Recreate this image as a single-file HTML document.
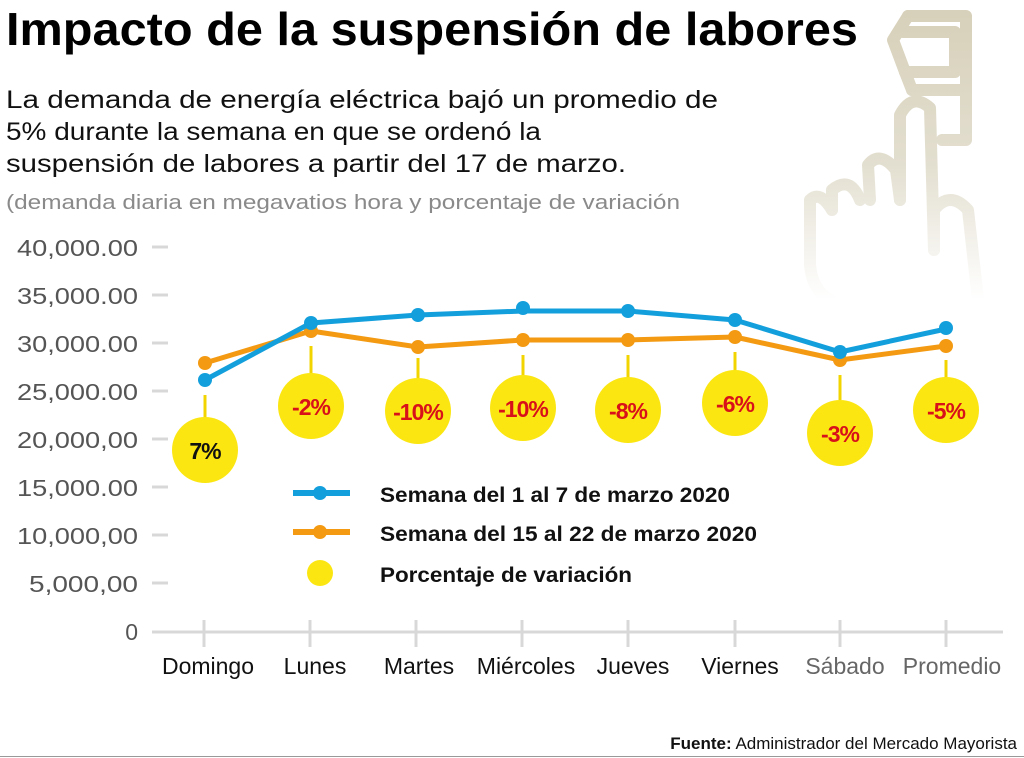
<!DOCTYPE html>
<html><head><meta charset="utf-8"><style>
body{margin:0;background:#fff;}
svg{display:block;}
</style></head><body>
<svg width="1024" height="758" viewBox="0 0 1024 758" xmlns="http://www.w3.org/2000/svg" font-family="Liberation Sans, DejaVu Sans, sans-serif">
<defs>
<linearGradient id="hg" x1="0" y1="0" x2="0" y2="300" gradientUnits="userSpaceOnUse">
<stop offset="0" stop-color="#d6cfb8"/><stop offset="0.55" stop-color="#e3dfd0"/><stop offset="1" stop-color="#ffffff"/>
</linearGradient>
</defs>
<!-- hand -->
<g fill="none" stroke="url(#hg)" stroke-width="12" stroke-linecap="round" stroke-linejoin="round">
<path d="M908 16 L966 16 L966 140 L942 140"/>
<path d="M908 16 L893 40 L905 72 L912 90"/>
<path d="M903 32 L955 32 L955 72 L905 72"/>
<path d="M912 90 L962 90"/>
<path d="M900 200 L900 115 Q912 92 930 108 L934 250"/>
<path d="M900 200 L896 170 Q880 150 868 165 L870 200"/>
<path d="M860 200 Q850 175 832 190 L832 210"/>
<path d="M832 210 Q820 190 810 200 L810 265 Q812 290 830 300"/>
<path d="M934 250 L934 210 Q950 190 968 210 L978 300"/>
</g>
<text x="6" y="45" font-size="46" font-weight="bold" fill="#000" textLength="852" lengthAdjust="spacingAndGlyphs">Impacto de la suspensión de labores</text>
<g font-size="25" fill="#111">
<text x="6" y="108" textLength="712" lengthAdjust="spacingAndGlyphs">La demanda de energía eléctrica bajó un promedio de</text>
<text x="6" y="140" textLength="535" lengthAdjust="spacingAndGlyphs">5% durante la semana en que se ordenó la</text>
<text x="6" y="172" textLength="620" lengthAdjust="spacingAndGlyphs">suspensión de labores a partir del 17 de marzo.</text>
</g>
<text x="6" y="209" font-size="20" fill="#8a8a8a" textLength="674" lengthAdjust="spacingAndGlyphs">(demanda diaria en megavatios hora y porcentaje de variación</text>
<!-- y axis -->
<g font-size="23" fill="#555" text-anchor="end">
<text x="138" y="256" textLength="121" lengthAdjust="spacingAndGlyphs">40,000.00</text>
<text x="138" y="304" textLength="121" lengthAdjust="spacingAndGlyphs">35,000.00</text>
<text x="138" y="352" textLength="121" lengthAdjust="spacingAndGlyphs">30,000.00</text>
<text x="138" y="400" textLength="121" lengthAdjust="spacingAndGlyphs">25,000.00</text>
<text x="138" y="448" textLength="121" lengthAdjust="spacingAndGlyphs">20,000,00</text>
<text x="138" y="496" textLength="121" lengthAdjust="spacingAndGlyphs">15,000.00</text>
<text x="138" y="544" textLength="121" lengthAdjust="spacingAndGlyphs">10,000,00</text>
<text x="138" y="592" textLength="109" lengthAdjust="spacingAndGlyphs">5,000,00</text>
<text x="138" y="640">0</text>
</g>
<g stroke="#d8d8d8" stroke-width="3">
<line x1="152" y1="247" x2="168" y2="247"/><line x1="152" y1="295" x2="168" y2="295"/>
<line x1="152" y1="343" x2="168" y2="343"/><line x1="152" y1="391" x2="168" y2="391"/>
<line x1="152" y1="439" x2="168" y2="439"/><line x1="152" y1="487" x2="168" y2="487"/>
<line x1="152" y1="535" x2="168" y2="535"/><line x1="152" y1="583" x2="168" y2="583"/>
<line x1="152" y1="632" x2="1003" y2="632"/>
<line x1="204" y1="620" x2="204" y2="647"/><line x1="310" y1="620" x2="310" y2="647"/>
<line x1="416" y1="620" x2="416" y2="647"/><line x1="522" y1="620" x2="522" y2="647"/>
<line x1="628" y1="620" x2="628" y2="647"/><line x1="735" y1="620" x2="735" y2="647"/>
<line x1="840" y1="620" x2="840" y2="647"/><line x1="946" y1="620" x2="946" y2="647"/>
</g>
<g font-size="23" fill="#111" text-anchor="middle">
<text x="208" y="674">Domingo</text><text x="315" y="674">Lunes</text>
<text x="419" y="674">Martes</text><text x="526" y="674">Miércoles</text>
<text x="633" y="674">Jueves</text><text x="740" y="674">Viernes</text>
<text x="845" y="674" fill="#666">Sábado</text><text x="952" y="674" fill="#666">Promedio</text>
</g>
<!-- connectors & circles -->
<g stroke="#f2d500" stroke-width="3">
<line x1="205" y1="395" x2="205" y2="420"/><line x1="311" y1="346" x2="311" y2="374"/>
<line x1="418" y1="358" x2="418" y2="379"/><line x1="523" y1="355" x2="523" y2="377"/>
<line x1="628" y1="355" x2="628" y2="379"/><line x1="735" y1="352" x2="735" y2="372"/>
<line x1="840" y1="375" x2="840" y2="400"/><line x1="946" y1="360" x2="946" y2="379"/>
</g>
<g fill="#fbe612">
<circle cx="205" cy="450" r="33"/><circle cx="311" cy="406" r="33"/>
<circle cx="418" cy="411" r="33"/><circle cx="523" cy="408" r="33"/>
<circle cx="628" cy="410" r="33"/><circle cx="735" cy="403" r="33"/>
<circle cx="840" cy="433" r="33"/><circle cx="946" cy="410" r="33"/>
</g>
<g font-size="23" font-weight="bold" fill="#d8101a" text-anchor="middle" letter-spacing="-1">
<text x="205" y="459" fill="#111">7%</text><text x="311" y="415">-2%</text>
<text x="418" y="420">-10%</text><text x="523" y="417">-10%</text>
<text x="628" y="419">-8%</text><text x="735" y="412">-6%</text>
<text x="840" y="442">-3%</text><text x="946" y="419">-5%</text>
</g>
<!-- series -->
<polyline fill="none" stroke="#f39a12" stroke-width="5" stroke-linejoin="round" points="205,363 311,331 418,347 523,340 628,340 735,337 840,360 946,346"/>
<g fill="#f39a12"><circle cx="205" cy="363" r="7"/><circle cx="311" cy="331" r="7"/><circle cx="418" cy="347" r="7"/><circle cx="523" cy="340" r="7"/><circle cx="628" cy="340" r="7"/><circle cx="735" cy="337" r="7"/><circle cx="840" cy="360" r="7"/><circle cx="946" cy="346" r="7"/></g>
<polyline fill="none" stroke="#139fdc" stroke-width="5" stroke-linejoin="round" points="205,380 311,323 418,315 523,311 628,311 735,320 840,352 946,329"/>
<g fill="#139fdc"><circle cx="205" cy="380" r="7"/><circle cx="311" cy="323" r="7"/><circle cx="418" cy="315" r="7"/><circle cx="523" cy="308" r="7"/><circle cx="628" cy="311" r="7"/><circle cx="735" cy="320" r="7"/><circle cx="840" cy="352" r="7"/><circle cx="946" cy="328" r="7"/></g>
<!-- legend -->
<line x1="293" y1="493" x2="350" y2="493" stroke="#139fdc" stroke-width="6"/><circle cx="320" cy="493" r="7" fill="#139fdc"/>
<line x1="293" y1="532" x2="350" y2="532" stroke="#f39a12" stroke-width="6"/><circle cx="320" cy="532" r="7" fill="#f39a12"/>
<circle cx="320" cy="573" r="13" fill="#fbe612"/>
<g font-size="21" font-weight="bold" fill="#111">
<text x="380" y="502" textLength="350" lengthAdjust="spacingAndGlyphs">Semana del 1 al 7 de marzo 2020</text>
<text x="380" y="541" textLength="377" lengthAdjust="spacingAndGlyphs">Semana del 15 al 22 de marzo 2020</text>
<text x="380" y="582" textLength="252" lengthAdjust="spacingAndGlyphs">Porcentaje de variación</text>
</g>
<text x="1017" y="749" font-size="17" fill="#111" text-anchor="end"><tspan font-weight="bold">Fuente:</tspan> Administrador del Mercado Mayorista</text>
<line x1="0" y1="756.5" x2="1024" y2="756.5" stroke="#999" stroke-width="1"/>
</svg>
</body></html>
